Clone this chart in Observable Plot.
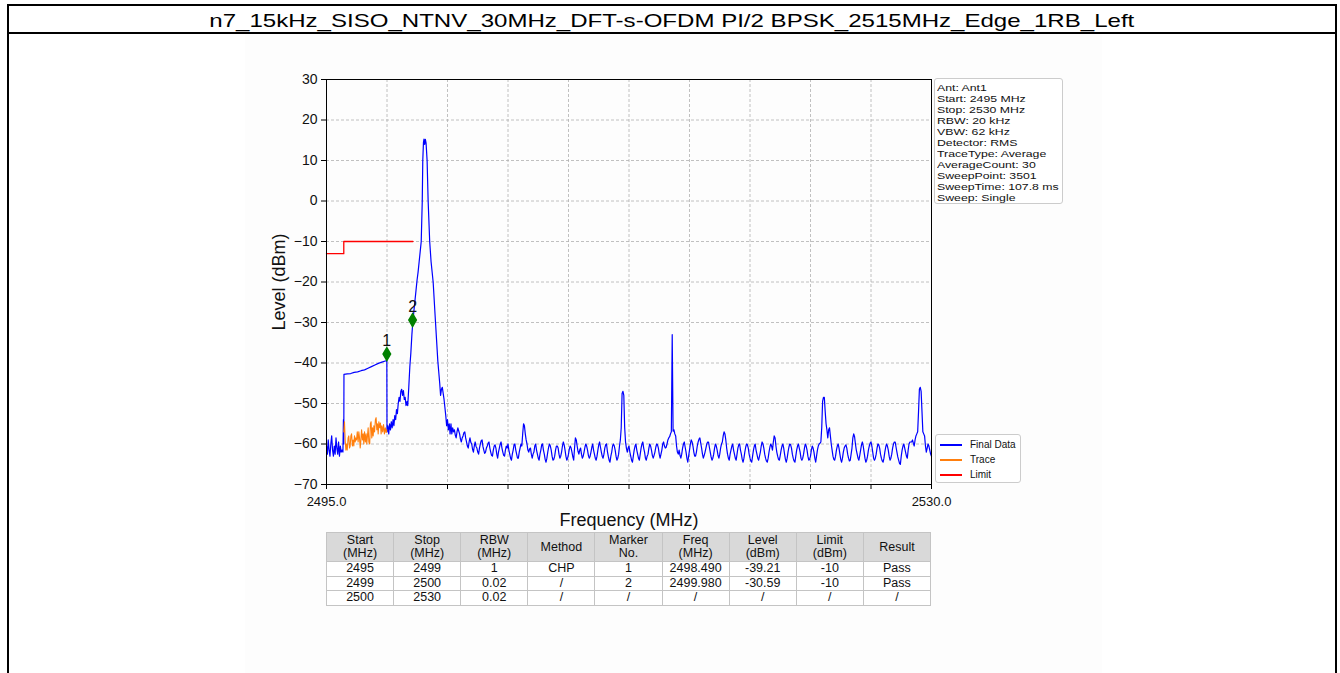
<!DOCTYPE html>
<html><head><meta charset="utf-8">
<script src="https://cdn.jsdelivr.net/npm/d3@7"></script>
<script src="https://cdn.jsdelivr.net/npm/@observablehq/plot@0.6"></script>
<style>
html,body{margin:0;padding:0;background:#fff;}
body{width:1340px;height:673px;position:relative;overflow:hidden;font-family:"Liberation Sans",Arial,sans-serif;color:#000;}
#box{position:absolute;left:7px;top:4px;width:1330px;height:740px;border:2px solid #000;box-sizing:border-box;}
#sep{position:absolute;left:7px;top:32px;width:1330px;height:2px;background:#000;}
#title{position:absolute;left:7px;top:8px;width:1330px;height:26px;line-height:26px;text-align:center;font-size:18.5px;}
#title span{display:inline-block;transform:scaleX(1.3);transform-origin:center;white-space:nowrap;}
#bg{position:absolute;left:245px;top:34px;width:857px;height:639px;background:#fdfdfd;}
#chart{position:absolute;left:245px;top:34px;}
#info{position:absolute;left:934px;top:78px;width:129px;height:126px;box-sizing:border-box;border:1px solid #cccccc;border-radius:3px;background:#fff;padding:3px 0 0 2px;font-size:9.6px;line-height:11px;color:#111;white-space:nowrap;}
#info div{height:11px;transform:scaleX(1.28);transform-origin:left center;}
#legend{position:absolute;left:935px;top:434px;width:86px;height:49px;box-sizing:border-box;border:1px solid #cccccc;border-radius:3px;background:#fff;}
.lg{position:absolute;left:0;width:86px;height:15px;}
.lg i{position:absolute;left:4px;top:7px;width:22px;height:1.5px;}
.lg b{position:absolute;left:34px;top:0;font-weight:normal;font-size:10px;line-height:15px;color:#111;}
#tbl{position:absolute;left:326px;top:532px;width:605px;border-collapse:collapse;table-layout:fixed;font-size:12.5px;color:#111;}
#tbl th{background:#d9d9d9;font-weight:normal;height:28px;line-height:13px;padding:0;border:1px solid #c4c4c4;text-align:center;}
#tbl td{height:13.5px;line-height:13.5px;padding:0;border:1px solid #c4c4c4;text-align:center;background:#fff;}
</style>
</head><body>
<div id="box"></div>
<div id="sep"></div>
<div id="title"><span></span></div>
<div id="bg"></div>
<div id="chart"></div>
<div id="info"></div>
<div id="legend"></div>
<table id="tbl"></table>
<script>
const titleText = "n7_15kHz_SISO_NTNV_30MHz_DFT-s-OFDM PI/2 BPSK_2515MHz_Edge_1RB_Left";
const infoLines = ["Ant: Ant1","Start: 2495 MHz","Stop: 2530 MHz","RBW: 20 kHz","VBW: 62 kHz","Detector: RMS","TraceType: Average","AverageCount: 30","SweepPoint: 3501","SweepTime: 107.8 ms","Sweep: Single"];
const legendNames = ["Final Data","Trace","Limit"];
const legendColors = ["#0000ff","#ff7f0e","#ff0000"];

const xTicks = [2495, 2498.5, 2502, 2505.5, 2509, 2512.5, 2516, 2519.5, 2523, 2526.5, 2530];
const xTickLabels = ["2495.0","","","","","","","","","","2530.0"];
const yTicks = [-70,-60,-50,-40,-30,-20,-10,0,10,20,30];

// Final Data (blue) — left noise 2495–2496
const finalLeft = [[2495.00,-60.5],[2495.05,-62.5],[2495.10,-59],[2495.15,-61.5],[2495.20,-63],[2495.25,-60],[2495.30,-58],[2495.35,-61.5],[2495.40,-63],[2495.45,-60.5],[2495.50,-62.5],[2495.55,-58.5],[2495.60,-61],[2495.65,-62.5],[2495.70,-59.5],[2495.75,-63],[2495.80,-60.5],[2495.85,-62],[2495.90,-61.5],[2495.95,-62],[2495.98,-54],[2496.00,-60]];
// Final Data — channel power segment 2496–2498.5
const finalChp = [[2496.01,-42.8],[2496.2,-42.7],[2496.4,-42.6],[2496.6,-42.3],[2496.8,-42.2],[2497.0,-41.9],[2497.2,-41.7],[2497.4,-41.3],[2497.6,-40.9],[2497.8,-40.5],[2498.0,-40.1],[2498.2,-39.8],[2498.4,-39.5],[2498.49,-39.4]];
// Final Data — carrier region 2498.5–2502.35
const finalPeak = [[2498.50,-57],[2498.55,-55.5],[2498.60,-57.5],[2498.65,-55],[2498.70,-56.5],[2498.75,-54.5],[2498.80,-56],[2498.85,-54],[2498.90,-55.5],[2498.95,-53],[2499.00,-54],[2499.05,-51.5],[2499.10,-52.5],[2499.15,-50],[2499.20,-48.5],[2499.25,-49.5],[2499.30,-47],[2499.35,-46.5],[2499.40,-48],[2499.45,-46.8],[2499.50,-49],[2499.55,-48.5],[2499.60,-50.5],[2499.66,-49.5],[2499.70,-50.5],[2499.76,-46],[2499.82,-41],[2499.88,-37.5],[2499.94,-33],[2500.00,-29.5],[2500.06,-27],[2500.12,-24.5],[2500.18,-22],[2500.24,-19.5],[2500.30,-17.5],[2500.36,-15],[2500.42,-12.5],[2500.48,-10],[2500.54,0],[2500.57,10],[2500.61,14.5],[2500.64,15.3],[2500.68,14],[2500.72,15.2],[2500.76,14.3],[2500.82,10],[2500.88,0],[2500.97,-10],[2501.05,-15],[2501.17,-20],[2501.30,-29.5],[2501.44,-39.5],[2501.55,-45],[2501.60,-48],[2501.65,-46.5],[2501.70,-46],[2501.75,-47.5],[2501.80,-49],[2501.85,-51],[2501.90,-53],[2501.95,-55.5],[2502.00,-54],[2502.05,-56.5],[2502.10,-55],[2502.15,-57.5],[2502.20,-55],[2502.25,-57.5],[2502.30,-56],[2502.35,-57]];
// Final Data — noise floor 2502.4–2530.0 on the 0.05 MHz sweep grid (one MHz per row)
const noiseStart = 2502.4, noiseStep = 0.05;
const noiseLevels = [
-56.5,-57.8,-58.5,-57,-56,-56.8,-57.5,-58.8,-59.5,-58.5,-58,-57.2,-57,-58.5,-59.5,-60.5,-61,-59.5,-58.5,-59.6,
-60,-61.3,-62,-60.5,-59.5,-60.6,-61,-62,-62.5,-61,-60,-59.2,-59,-60.6,-61.5,-62.3,-62,-61,-60.5,-59.8,
-59.5,-61,-62,-62.8,-63,-61.5,-60.5,-60.2,-61,-62.5,-63.5,-62,-61,-60,-59.5,-61,-62,-62.8,-63,-61.5,
-60.5,-61,-60,-61.5,-62.5,-63.5,-64,-62.5,-61.5,-60.2,-60,-61.5,-62.5,-63.5,-63.5,-62,-61,-60,-60.5,-57.5,
-55,-55.5,-57.5,-59,-60,-61.5,-62,-61.2,-61,-62.5,-63.5,-62.5,-62,-60.5,-60,-61.5,-62.5,-63.5,-64,-62.5,
-61.5,-60.2,-60,-61.5,-62.5,-63.8,-64.5,-63.5,-62,-60.8,-60,-60.5,-61.5,-63,-64,-63.8,-63,-61.5,-60.5,-60.5,
-61,-62.5,-63.5,-63,-62,-60.5,-59.5,-60.2,-61.5,-63,-64,-63.5,-62.5,-61.2,-60.5,-61,-62,-63.2,-64,-61,
-58.5,-59,-60.5,-61.8,-62.5,-61.5,-61,-62.5,-63.5,-63,-62,-60.8,-60,-60.5,-61.5,-62.8,-63.5,-63,-62,-60.8,
-60,-61.5,-62.5,-63.5,-64,-63,-61.5,-60.2,-59.5,-60.8,-62,-63,-63.5,-62.5,-61,-60.2,-60,-61.8,-63,-64,
-64.5,-63,-62,-60.5,-60,-60.5,-61.5,-63,-64,-63.5,-62.5,-60.5,-59,-56,-47.5,-47,-48,-56,-59.5,-61,
-62,-61,-60.5,-62,-63,-64,-64.5,-63,-61.5,-60.5,-60,-61.5,-62.5,-63.5,-64,-62.5,-61,-60,-59.5,-61,
-62,-63.5,-64,-63,-62.5,-61,-60,-60.5,-61.5,-62.8,-63.5,-62.8,-62,-60.8,-60,-60.2,-61,-62.5,-63.5,-62.5,
-61.5,-60,-59.5,-60.5,-61,-60.8,-60,-59,-58.5,-58.2,-57.5,-57,-33,-56.8,-56.5,-57.5,-58,-60.5,-62,-62.5,
-61.5,-62.8,-63.5,-62.5,-61,-60,-59.5,-60.8,-62,-63.5,-64.5,-63,-61.5,-60,-59,-59.5,-60.5,-62,-63,-63,
-62,-60.5,-59.5,-58.8,-58.5,-59.8,-61,-62.5,-63.5,-62.8,-62,-61,-60,-59.5,-59.5,-60.8,-62,-63.2,-64,-63.5,
-62.5,-61,-60,-60.5,-61.5,-62.8,-63.5,-62.5,-61,-60,-59.5,-58,-57,-57.5,-59,-61,-62.5,-63.5,-64,-62.5,
-61.5,-60.5,-60,-61.5,-62.5,-63.5,-64,-62.5,-61,-60.2,-60,-61.5,-62.5,-63.8,-64.5,-63.5,-62,-60.8,-60,-60.2,
-61,-62.5,-63.5,-64.2,-64.5,-63,-61.5,-60.5,-60,-61.5,-62.5,-63.5,-64,-63,-62,-60.5,-59.5,-60,-61,-62.5,
-63.5,-64.2,-64.5,-63.5,-62,-60.8,-60,-60.5,-61.5,-59.5,-58,-58.5,-60.5,-62,-63,-63.8,-64,-62.8,-61.5,-60.5,
-60,-61,-62.5,-63.8,-64.5,-63.5,-62,-60.8,-60,-60.2,-61,-62.5,-63.5,-64.2,-64.5,-63,-61.5,-60.5,-60,-61,
-62,-63.5,-64,-63.5,-62.5,-61,-60,-60.5,-61.5,-63,-64,-63.8,-63,-61.5,-60.5,-61,-62,-63.5,-64.5,-63,
-61.5,-60.5,-60,-59.8,-59.5,-56,-49.5,-48.5,-48.5,-52,-55,-56.5,-58.5,-56.5,-56,-58,-60,-61.5,-63,-63.8,
-64,-63,-61.5,-60.5,-60,-61,-62.5,-63.8,-64.5,-63.5,-62,-61,-60.5,-60.2,-61,-62.5,-63.5,-64.2,-64,-62.5,
-61,-58.5,-57.5,-58.2,-60,-61.5,-62.5,-63.5,-64,-62.8,-61.5,-60.2,-59.5,-60.5,-62,-63.5,-64.5,-64,-63,-61.5,
-60.5,-59.8,-59.5,-60.5,-62,-63.5,-64,-63.5,-62.5,-61,-60,-60.2,-61,-62.5,-63.5,-64.2,-64.5,-63.5,-62,-60.8,
-60,-60.5,-61.5,-63,-64,-63.5,-62.5,-61,-60,-59.5,-59.5,-60.8,-62,-63.2,-64,-64.8,-65,-63,-61.5,-60.5,
-60,-61,-62,-63,-63.5,-61.5,-60,-59.5,-59.5,-59.5,-59,-59.8,-60.5,-59,-58,-57.5,-57,-52,-46.5,-46,
-47,-52,-57,-57.5,-58,-60.5,-62,-61,-60,-60.5,-61.5,-62.5,-63];

// Trace (orange) 2496–2498.5
const traceData = [[2496.00,-57],[2496.04,-54.5],[2496.08,-59],[2496.12,-61.5],[2496.16,-60],[2496.20,-61.5],[2496.25,-58.5],[2496.29,-58],[2496.33,-61],[2496.37,-60.5],[2496.41,-58],[2496.45,-57.5],[2496.50,-60.5],[2496.54,-59],[2496.58,-60.5],[2496.62,-58],[2496.66,-59.5],[2496.70,-58.5],[2496.74,-59],[2496.78,-57],[2496.83,-59.5],[2496.87,-57],[2496.91,-58.5],[2496.95,-61],[2496.99,-59],[2497.03,-56.5],[2497.08,-59],[2497.12,-57.5],[2497.16,-60],[2497.20,-57],[2497.25,-59.5],[2497.29,-57.5],[2497.33,-60],[2497.37,-58],[2497.41,-56],[2497.45,-59.5],[2497.50,-60],[2497.54,-55],[2497.58,-54.5],[2497.62,-58.5],[2497.66,-56],[2497.70,-58],[2497.74,-55.5],[2497.78,-57],[2497.83,-54],[2497.87,-53.5],[2497.91,-56.5],[2497.95,-55],[2497.99,-57.5],[2498.03,-54.5],[2498.08,-56],[2498.12,-54.8],[2498.16,-57.5],[2498.20,-55.5],[2498.25,-57],[2498.30,-55.2],[2498.35,-57.5],[2498.40,-56],[2498.45,-57.2],[2498.49,-56.5]];

// Limit (red)
const limitFreq = [2495, 2496, 2500];
const limitLevel = [-13, -10, -10];

// Markers (positions as drawn)
const markerNo = ["1","2"];
const markerFreq = [2498.49, 2499.98];
const markerLevel = [-37.8, -29.4];

// Result table
const tableHeader = ["Start\n(MHz)","Stop\n(MHz)","RBW\n(MHz)","Method","Marker\nNo.","Freq\n(MHz)","Level\n(dBm)","Limit\n(dBm)","Result"];
const tableRows = [
  ["2495","2499","1","CHP","1","2498.490","-39.21","-10","Pass"],
  ["2499","2500","0.02","/","2","2499.980","-30.59","-10","Pass"],
  ["2500","2530","0.02","/","/","/","/","/","/"]
];

// ---- build page ----
document.querySelector("#title span").textContent = titleText;
document.getElementById("info").innerHTML = infoLines.map(s => `<div>${s}</div>`).join("");
document.getElementById("legend").innerHTML = legendNames.map((n, i) =>
  `<div class="lg" style="top:${2 + i * 15}px"><i style="background:${legendColors[i]}"></i><b>${n}</b></div>`).join("");
const tbl = document.getElementById("tbl");
tbl.innerHTML = "<tr>" + tableHeader.map(h => `<th>${h.replace("\n", "<br>")}</th>`).join("") + "</tr>" +
  tableRows.map(r => "<tr>" + r.map(c => `<td>${c}</td>`).join("") + "</tr>").join("");

const pt = ([f, L]) => ({f, L});
const finalData = [
  ...finalLeft.map(pt), ...finalChp.map(pt), ...finalPeak.map(pt),
  ...noiseLevels.map((L, i) => ({f: noiseStart + i * noiseStep, L}))
];
const trace = traceData.map(pt);
const limit = limitFreq.map((f, i) => ({f, L: limitLevel[i]}));
const markers = markerNo.map((n, i) => ({n, f: markerFreq[i], L: markerLevel[i]}));

const thinDiamond = {
  draw(ctx, size) {
    const s = Math.sqrt(size);
    const h = s * 0.8, w = s * 0.47;
    ctx.moveTo(0, -h); ctx.lineTo(w, 0); ctx.lineTo(0, h); ctx.lineTo(-w, 0); ctx.closePath();
  }
};
const fmtY = d => d < 0 ? "\u2212" + Math.abs(d) : String(d);
const grid = {stroke: "#b0b0b0", strokeOpacity: 1, strokeDasharray: "3,2", strokeWidth: 0.8};

const chart = Plot.plot({
  width: 855, height: 500,
  marginLeft: 81, marginRight: 169, marginTop: 45, marginBottom: 50,
  style: {background: "transparent", fontFamily: "'Liberation Sans', Arial, sans-serif", fontSize: "13px", color: "#111", overflow: "visible"},
  x: {domain: [2495, 2530]},
  y: {domain: [-70, 30]},
  marks: [
    Plot.gridX(xTicks, grid),
    Plot.gridY(yTicks, grid),
    Plot.line(finalData, {x: "f", y: "L", stroke: "#0000ff", strokeWidth: 1.2}),
    Plot.line(trace, {x: "f", y: "L", stroke: "#ff7f0e", strokeWidth: 1.1}),
    Plot.line(limit, {x: "f", y: "L", stroke: "#ff0000", strokeWidth: 1.3, curve: "step-after"}),
    Plot.dot(markers, {x: "f", y: "L", symbol: thinDiamond, r: 4.5, fill: "#008000", stroke: "#008000"}),
    Plot.text(markers, {x: "f", y: "L", text: "n", dy: -13, fontSize: 16, fill: "#111"}),
    Plot.frame({stroke: "#000", strokeWidth: 1}),
    Plot.axisX(xTicks, {tickFormat: (d, i) => xTickLabels[i], tickSize: 5, tickPadding: 7, label: null, stroke: "#000", fontSize: 13}),
    Plot.axisY(yTicks, {tickFormat: fmtY, tickSize: 5, tickPadding: 4, label: null, stroke: "#000", fontSize: 14}),
    Plot.text(["Level (dBm)"], {frameAnchor: "left", dx: -47, rotate: -90, textAnchor: "middle", lineAnchor: "middle", fontSize: 18, fill: "#111"}),
    Plot.text(["Frequency (MHz)"], {frameAnchor: "bottom", dy: 36, textAnchor: "middle", lineAnchor: "middle", fontSize: 18, fill: "#111"})
  ]
});
document.getElementById("chart").appendChild(chart);
</script>
</body></html>
